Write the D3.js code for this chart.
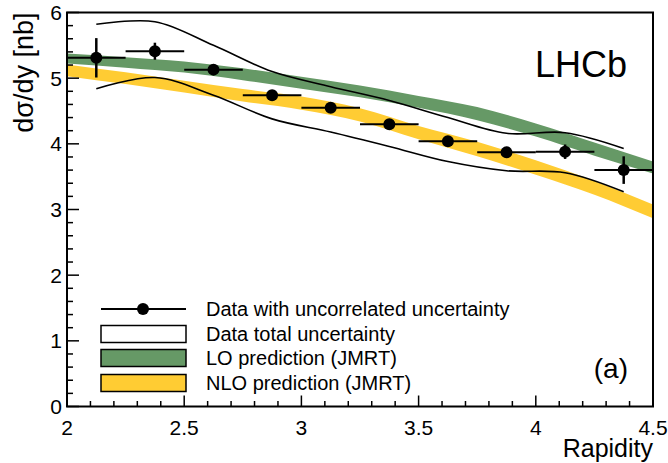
<!DOCTYPE html>
<html>
<head>
<meta charset="utf-8">
<script src="https://cdn.jsdelivr.net/npm/d3@7"></script>
<style>
  body { margin: 0; background: #fff; }
  svg text { font-family: "Liberation Sans", Arial, Helvetica, sans-serif; fill: #000; }
</style>
</head>
<body>
<svg id="chart"></svg>
<script>
// data
const rapidity = [2.125, 2.375, 2.625, 2.875, 3.125, 3.375, 3.625, 3.875, 4.125, 4.375];
const binHalfWidth = [0.125, 0.125, 0.125, 0.125, 0.125, 0.125, 0.125, 0.125, 0.125, 0.125];
const dsigma = [5.31, 5.41, 5.13, 4.74, 4.55, 4.30, 4.04, 3.87, 3.88, 3.60];
const errUncorr = [0.30, 0.13, 0.05, 0.04, 0.04, 0.04, 0.04, 0.05, 0.11, 0.21];
const totalUpper = [5.82, 5.86, 5.50, 5.10, 4.87, 4.66, 4.40, 4.16, 4.17, 3.93];
const totalLower = [4.84, 5.01, 4.74, 4.38, 4.18, 3.96, 3.73, 3.59, 3.56, 3.27];

// JMRT predictions
const predRapidity = [2.0, 2.25, 2.5, 2.75, 3.0, 3.25, 3.5, 3.75, 4.0, 4.25, 4.5];
const loHigh = [5.375, 5.32, 5.255, 5.15, 5.02, 4.89, 4.73, 4.56, 4.31, 4.02, 3.73];
const loLow = [5.225, 5.16, 5.085, 4.97, 4.84, 4.71, 4.55, 4.36, 4.11, 3.82, 3.55];
const nloHigh = [5.21, 5.09, 4.96, 4.835, 4.72, 4.54, 4.27, 4.03, 3.75, 3.435, 3.075];
const nloLow = [5.03, 4.91, 4.78, 4.645, 4.52, 4.34, 4.07, 3.81, 3.53, 3.225, 2.865];

const xTicks = [2, 2.5, 3, 3.5, 4, 4.5];
const yTicks = [0, 1, 2, 3, 4, 5, 6];
const legendLabels = ["Data with uncorrelated uncertainty", "Data total uncertainty",
                      "LO prediction (JMRT)", "NLO prediction (JMRT)"];

function drawChart() {
  const width = 668;
  const height = 463;
  const left = 67, right = 653, top = 12.5, bottom = 406.5;
  const green = "#669966";
  const yellow = "#ffcc33";

  const svg = d3.select("#chart")
    .attr("width", width)
    .attr("height", height);

  const x = d3.scaleLinear().domain([2, 4.5]).range([left, right]);
  const y = d3.scaleLinear().domain([0, 6]).range([bottom, top]);

  const bandArea = (hi, lo) => d3.area()
      .x((d, i) => x(predRapidity[i]))
      .y0((d, i) => y(lo[i]))
      .y1((d, i) => y(hi[i]))
      .curve(d3.curveMonotoneX)(predRapidity);

  svg.append("path").attr("d", bandArea(loHigh, loLow)).attr("fill", green);
  svg.append("path").attr("d", bandArea(nloHigh, nloLow)).attr("fill", yellow);

  // total uncertainty envelope
  const envLine = vals => d3.line()
      .x((d, i) => x(rapidity[i]))
      .y((d, i) => y(vals[i]))
      .curve(d3.curveCatmullRom.alpha(0.5))(rapidity);

  [totalUpper, totalLower].forEach(vals => {
    svg.append("path")
      .attr("d", envLine(vals))
      .attr("fill", "none")
      .attr("stroke", "#000")
      .attr("stroke-width", 1.6);
  });

  // data points
  const pts = svg.append("g");
  rapidity.forEach((r, i) => {
    pts.append("line")
      .attr("x1", x(r - binHalfWidth[i])).attr("x2", x(r + binHalfWidth[i]))
      .attr("y1", y(dsigma[i])).attr("y2", y(dsigma[i]))
      .attr("stroke", "#000").attr("stroke-width", 2);
    pts.append("line")
      .attr("x1", x(r)).attr("x2", x(r))
      .attr("y1", y(dsigma[i] - errUncorr[i])).attr("y2", y(dsigma[i] + errUncorr[i]))
      .attr("stroke", "#000").attr("stroke-width", 2.5);
    pts.append("circle")
      .attr("cx", x(r)).attr("cy", y(dsigma[i])).attr("r", 6)
      .attr("fill", "#000");
  });

  // frame
  svg.append("rect")
    .attr("x", left).attr("y", top)
    .attr("width", right - left).attr("height", bottom - top)
    .attr("fill", "none").attr("stroke", "#000").attr("stroke-width", 2);

  // x axis ticks (inside)
  const xMinor = d3.range(2, 4.5001, 0.1);
  svg.append("g").selectAll("line").data(xMinor).join("line")
    .attr("x1", d => x(d)).attr("x2", d => x(d))
    .attr("y1", bottom)
    .attr("y2", d => xTicks.some(t => Math.abs(t - d) < 1e-6) ? bottom - 11 : bottom - 5.5)
    .attr("stroke", "#000").attr("stroke-width", 1.5);
  svg.append("g").selectAll("text").data(xTicks).join("text")
    .attr("x", d => x(d)).attr("y", 435)
    .attr("text-anchor", "middle")
    .attr("font-size", 21)
    .text(d => d);

  // y axis ticks (inside)
  const yMinor = d3.range(0, 6.0001, 0.2);
  svg.append("g").selectAll("line").data(yMinor).join("line")
    .attr("y1", d => y(d)).attr("y2", d => y(d))
    .attr("x1", left)
    .attr("x2", d => yTicks.some(t => Math.abs(t - d) < 1e-6) ? left + 12 : left + 6)
    .attr("stroke", "#000").attr("stroke-width", 1.5);
  svg.append("g").selectAll("text").data(yTicks).join("text")
    .attr("x", 62).attr("y", d => y(d) + 7.5)
    .attr("text-anchor", "end")
    .attr("font-size", 21)
    .text(d => d);

  // axis titles
  svg.append("text")
    .attr("x", right).attr("y", 457)
    .attr("text-anchor", "end")
    .attr("font-size", 25)
    .text("Rapidity");
  svg.append("text")
    .attr("transform", `translate(33,${top}) rotate(-90)`)
    .attr("text-anchor", "end")
    .attr("font-size", 27)
    .text("dσ/dy [nb]");

  svg.append("text")
    .attr("x", 535).attr("y", 77)
    .attr("font-size", 36)
    .text("LHCb");
  svg.append("text")
    .attr("x", 628).attr("y", 378)
    .attr("text-anchor", "end")
    .attr("font-size", 28)
    .text("(a)");

  // legend
  const lgX = 101, lgW = 85, lgTextX = 206;
  const rowY = [309, 334, 358, 383];
  const lg = svg.append("g");
  lg.append("line")
    .attr("x1", lgX).attr("x2", lgX + lgW)
    .attr("y1", rowY[0]).attr("y2", rowY[0])
    .attr("stroke", "#000").attr("stroke-width", 2);
  lg.append("circle")
    .attr("cx", lgX + 42).attr("cy", rowY[0]).attr("r", 6).attr("fill", "#000");
  [["#fff", 1], [green, 2], [yellow, 3]].forEach(([c, i]) => {
    lg.append("rect")
      .attr("x", lgX).attr("y", rowY[i] - 8.5)
      .attr("width", lgW).attr("height", 17)
      .attr("fill", c).attr("stroke", "#000").attr("stroke-width", 1.5);
  });
  lg.selectAll("text").data(legendLabels).join("text")
    .attr("x", lgTextX).attr("y", (d, i) => rowY[i] + 7)
    .attr("font-size", 20)
    .text(d => d);
}

drawChart();
</script>
</body>
</html>
